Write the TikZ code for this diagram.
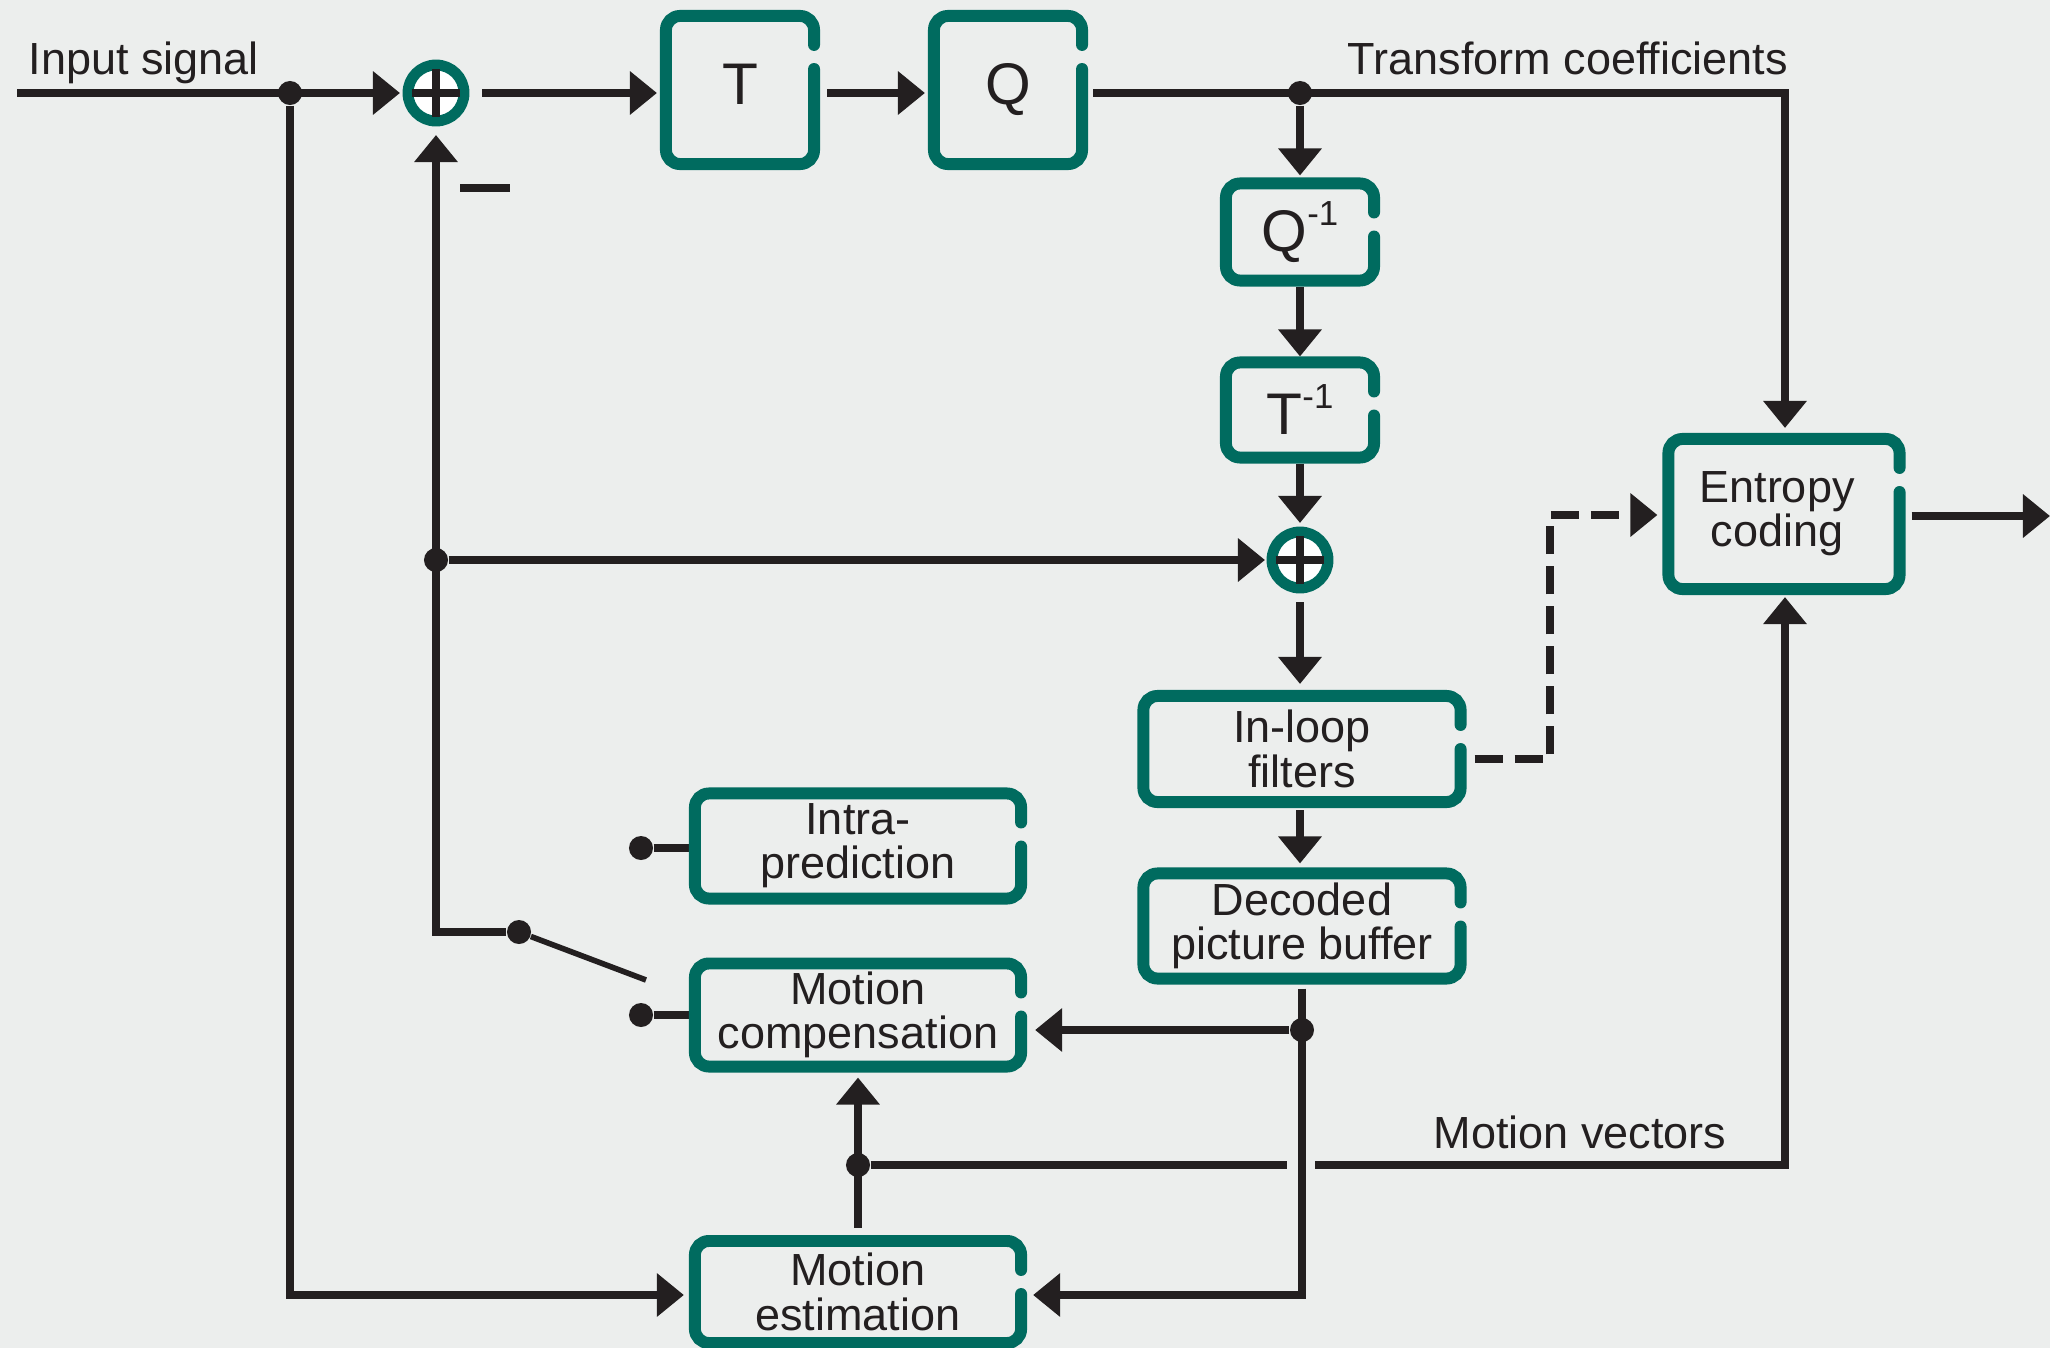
\documentclass[tikz,border=0pt]{standalone}
\usepackage{fontspec}
\setmainfont{Liberation Sans}
\usetikzlibrary{arrows.meta,calc}

\definecolor{bg}{RGB}{236,238,237}
\definecolor{blockteal}{RGB}{0,107,95}
\definecolor{ink}{RGB}{35,31,32}

\newcommand{\bigletter}{\fontsize{16.7}{18}\selectfont}
\newcommand{\invsup}{\raisebox{0.26cm}{\fontsize{9.9}{10}\selectfont -1}}

\tikzset{
  blk/.style={inner sep=0pt, outer sep=0pt, align=center, text=ink,
              font=\fontsize{12.8}{12.6}\selectfont},
  blkborder/.style={draw=blockteal, line width=3.4pt, line cap=round,
                    rounded corners=0.14cm},
  sumnode/.style={circle, inner sep=0pt, outer sep=0pt, minimum size=0.56cm,
                  draw=blockteal, line width=3.1pt, fill=white},
  wire/.style={draw=ink, line width=2pt},
  arr/.style={wire, -{Triangle[length=0.27cm,width=0.42cm]}},
  jdot/.style={circle, fill=ink, inner sep=0pt, minimum size=0.24cm},
  lbl/.style={inner sep=0pt, text=ink, font=\fontsize{12.8}{13.5}\selectfont,
              anchor=base west},
}

\begin{document}
\begin{tikzpicture}[x=0.01cm, y=-0.01cm]
  % canvas
  \fill[bg] (0,0) rectangle (2050,1348);
  \useasboundingbox (0,0) rectangle (2050,1348);

  % processing blocks
  \node[blk, minimum width=1.48cm, minimum height=1.48cm, font=\bigletter, text depth=0.12cm] (T)  at (740,90)   {T};
  \node[blk, minimum width=1.48cm, minimum height=1.48cm, font=\bigletter, text depth=0.12cm] (Q)  at (1008,90)  {Q};
  \node[blk, minimum width=1.48cm, minimum height=0.97cm, font=\bigletter] (Qi) at (1300,232)  {Q\invsup};
  \node[blk, minimum width=1.48cm, minimum height=0.95cm, font=\bigletter] (Ti) at (1300,410)  {T\invsup};
  \node[blk, minimum width=2.31cm, minimum height=1.50cm] (EC)  at (1784,514)  {Entropy\kern0.14cm\\coding\kern0.14cm};
  \node[blk, minimum width=3.17cm, minimum height=1.06cm] (ILF) at (1302,749)  {In-loop\\filters};
  \node[blk, minimum width=3.17cm, minimum height=1.05cm] (DPB) at (1302,926)  {Decoded\\picture buffer};
  \node[blk, minimum width=3.26cm, minimum height=1.05cm] (IP)  at (858,846)   {Intra-\\prediction};
  \node[blk, minimum width=3.26cm, minimum height=1.03cm] (MC)  at (858,1015)  {Motion\\compensation};
  \node[blk, minimum width=3.26cm, minimum height=1.02cm] (ME)  at (858,1292)  {Motion\\estimation};

  % summation points
  \node[sumnode] (s1) at (436,93)  {};
  \node[sumnode] (s2) at (1300,560) {};

  % junctions and switch contacts
  \node[jdot] (d1)  at (290,93)   {};
  \node[jdot] (d2)  at (1300,93)  {};
  \node[jdot] (d4)  at (436,560)  {};
  \node[jdot] (d3)  at (1302,1030) {};
  \node[jdot] (piv) at (519,932)  {};
  \node[jdot] (d5)  at (641,848)  {};
  \node[jdot] (d6)  at (641,1015) {};
  \node[jdot] (d7)  at (858,1165) {};

  % routing points
  \coordinate (in0) at (17,93);
  \coordinate (c1)  at (1785,93);
  \coordinate (c2)  at (1302,1295);
  \coordinate (c3)  at (290,1295);
  \coordinate (fb)  at (436,932);
  \coordinate (sw)  at (646,980);
  \coordinate (dA)  at (1550,759);
  \coordinate (dB)  at (1550,515);
  \coordinate (out) at (2050,516);
  \coordinate (mvA) at (1287,1165);
  \coordinate (mvB) at (1315,1165);
  \coordinate (mv)  at (1785,1165);

  % forward path
  \draw[arr, shorten >=0.08cm] (in0) -- (s1.west);
  \draw[arr, shorten <=0.18cm, shorten >=0.09cm] (s1.east) -- (s1.east -| T.west);
  \draw[arr, shorten <=0.13cm, shorten >=0.09cm] (T.east |- s1) -- (Q.west |- s1);
  \draw[arr, shorten <=0.11cm, shorten >=0.11cm] (Q.east |- s1) -- (c1) -- (c1 |- EC.north);
  \draw[arr, shorten >=0.08cm] (d2) -- (Qi.north);
  \draw[arr, shorten <=0.06cm, shorten >=0.06cm] (Qi.south) -- (Ti.north);
  \draw[arr, shorten <=0.06cm, shorten >=0.09cm] (Ti.south) -- (s2.north);
  \draw[arr, shorten >=0.07cm] (d4) -- (s2.west);
  \draw[arr, shorten <=0.14cm, shorten >=0.12cm] (s2.south) -- (s2 |- ILF.north);
  \draw[arr, shorten <=0.08cm, shorten >=0.10cm] (ILF.south -| s2) -- (s2 |- DPB.north);
  \draw[arr, shorten <=0.12cm] (EC.east |- out) -- (out);

  % loop filter side information
  \draw[arr, dash pattern=on 0.28cm off 0.12cm, shorten <=0.14cm, shorten >=0.11cm]
    (dA -| ILF.east) -- (dA) -- (dB) -- (dB -| EC.west);

  % reference pictures
  \draw[arr, shorten <=0.10cm, shorten >=0.12cm] (DPB.south) -- (c2) -- (c2 -| ME.east);
  \draw[arr, shorten >=0.14cm] (d3) -- (d3 -| MC.east);

  % input to motion estimation
  \draw[arr, shorten >=0.11cm] (d1) -- (c3) -- (c3 -| ME.west);

  % prediction feedback and mode switch
  \draw[arr, shorten >=0.14cm] (piv) -- (fb) -- (s1.south);
  \draw[wire, line width=1.6pt] (piv) -- (sw);
  \draw[wire] (d5) -- (d5 -| IP.west);
  \draw[wire] (d6) -- (d6 -| MC.west);
  \draw[wire] (460,188) -- (510,188);

  % motion vectors
  \draw[arr, shorten <=0.13cm, shorten >=0.11cm] (ME.north) -- (MC.south);
  \draw[wire] (d7) -- (mvA);
  \draw[arr, shorten >=0.08cm] (mvB) -- (mv) -- (mv |- EC.south);

  % plus signs
  \foreach \s in {s1,s2}{
    \draw[wire] ([xshift=-0.24cm]\s.center) -- ([xshift=0.24cm]\s.center);
    \draw[wire] ([yshift=-0.24cm]\s.center) -- ([yshift=0.24cm]\s.center);
  }

  % block outlines, open on the upper right side
  \foreach \n in {T,Q,Qi,Ti,EC,ILF,DPB,IP,MC,ME}{
    \draw[blkborder] ([yshift=-0.53cm]\n.north east) -- (\n.south east)
      -- (\n.south west) -- (\n.north west) -- (\n.north east)
      -- ([yshift=-0.29cm]\n.north east);
  }

  % labels
  \node[lbl] (lin) at (28,74)    {Input signal};
  \node[lbl] (ltc) at (1347,74)  {Transform coefficients};
  \node[lbl] (lmv) at (1433,1148) {Motion vectors};
\end{tikzpicture}
\end{document}
